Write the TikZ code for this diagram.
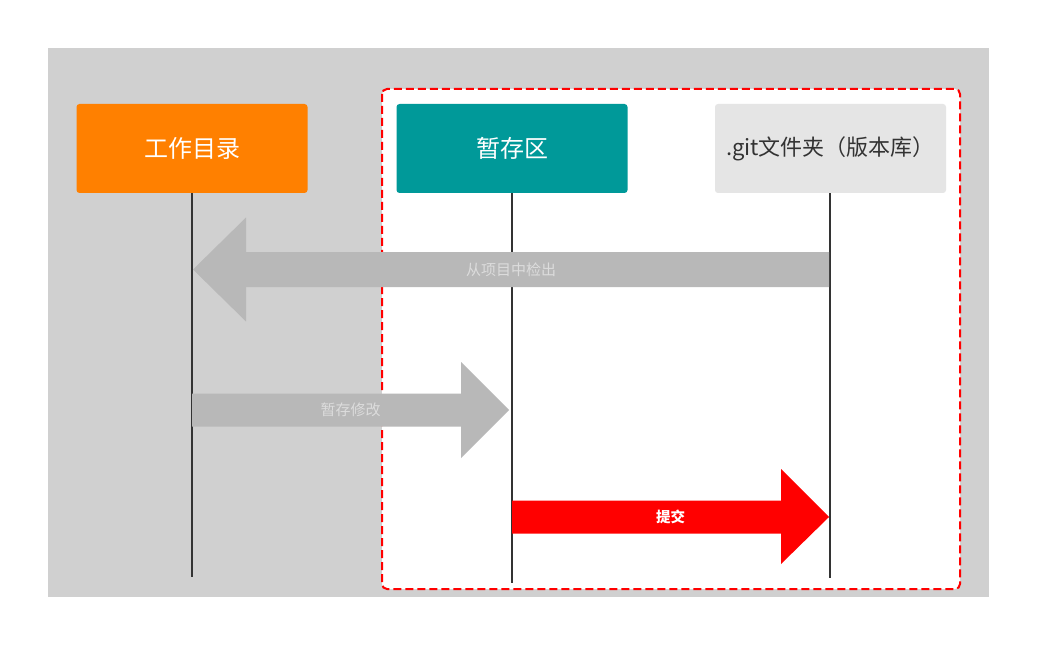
\documentclass[tikz,border=0pt]{standalone}
\usepackage{fontspec}
\setmainfont{Noto Sans CJK SC}
\usetikzlibrary{positioning,calc}
\definecolor{panel}{HTML}{D0D0D0}
\definecolor{wdorange}{HTML}{FF8000}
\definecolor{stageteal}{HTML}{009999}
\definecolor{repogray}{HTML}{E5E5E5}
\definecolor{shaftgray}{HTML}{B8B8B8}
\definecolor{lblgray}{HTML}{DCDCDC}
\definecolor{lifeline}{HTML}{333333}
\tikzset{
  box/.style={rounded corners=3pt,minimum width=231pt,minimum height=89pt,inner sep=0pt,font=\fontsize{24}{28}\selectfont,text=white},
  life/.style={lifeline,line width=1.5pt},
  lbl/.style={font=\fontsize{15}{18}\selectfont,text=lblgray}
}

\begin{document}
\begin{tikzpicture}[x=1pt,y=-1pt]
\useasboundingbox (0,0) rectangle (1051,660);
\fill[panel] (48,48) rectangle (989,597);
\fill[white,rounded corners=5pt] (382,89) rectangle (960,589);
\draw[red,line width=2pt,dash pattern=on 8pt off 4pt,rounded corners=5pt] (382,89) rectangle (960,589);
\node[box,fill=wdorange] (wd) at (192,148.5) {工作目录};
\node[box,fill=stageteal] (stage) at (512,148.5) {暂存区};
\node[box,fill=repogray,text=lifeline,font=\fontsize{22}{26}\selectfont] (repo) at (830.5,148.5) {.git文件夹（版本库）};
\coordinate (wd end) at (192,577);
\coordinate (stage end) at (512,583);
\coordinate (repo end) at (830,578);
\draw[life] (wd.south) -- (wd end);
\draw[life] (stage.south) -- (stage end);
\draw[life] (repo.south-|repo end) -- (repo end);
% checkout
\coordinate (co s) at (829,269.5);
\coordinate (co t) at (193,269.5);
\fill[shaftgray] ($(co s)+(0,-17.5)$) -- ($(co t)+(53,-17.5)$) -- ($(co t)+(53,-52)$) -- (co t)
  -- ($(co t)+(53,52)$) -- ($(co t)+(53,17.5)$) -- ($(co s)+(0,17.5)$) -- cycle;
\node[lbl] (co) at ($(co s)!.5!(co t)$) {从项目中检出};
% stage
\coordinate (st s) at (192,410);
\coordinate (st t) at (509,410);
\fill[shaftgray] ($(st s)+(0,-16.5)$) -- ($(st t)+(-48,-16.5)$) -- ($(st t)+(-48,-48)$) -- (st t)
  -- ($(st t)+(-48,48)$) -- ($(st t)+(-48,16.5)$) -- ($(st s)+(0,16.5)$) -- cycle;
\node[lbl] (st) at ($(st s)!.5!(st t)$) {暂存修改};
% commit
\coordinate (ci s) at (512,517);
\coordinate (ci t) at (829,517);
\fill[red] ($(ci s)+(0,-16.5)$) -- ($(ci t)+(-48,-16.5)$) -- ($(ci t)+(-48,-48)$) -- (ci t)
  -- ($(ci t)+(-48,47)$) -- ($(ci t)+(-48,16.5)$) -- ($(ci s)+(0,16.5)$) -- cycle;
\node[lbl,text=white,font=\fontsize{14.5}{17}\selectfont\bfseries] (ci) at ($(ci s)!.5!(ci t)$) {提交};
\end{tikzpicture}
\end{document}
